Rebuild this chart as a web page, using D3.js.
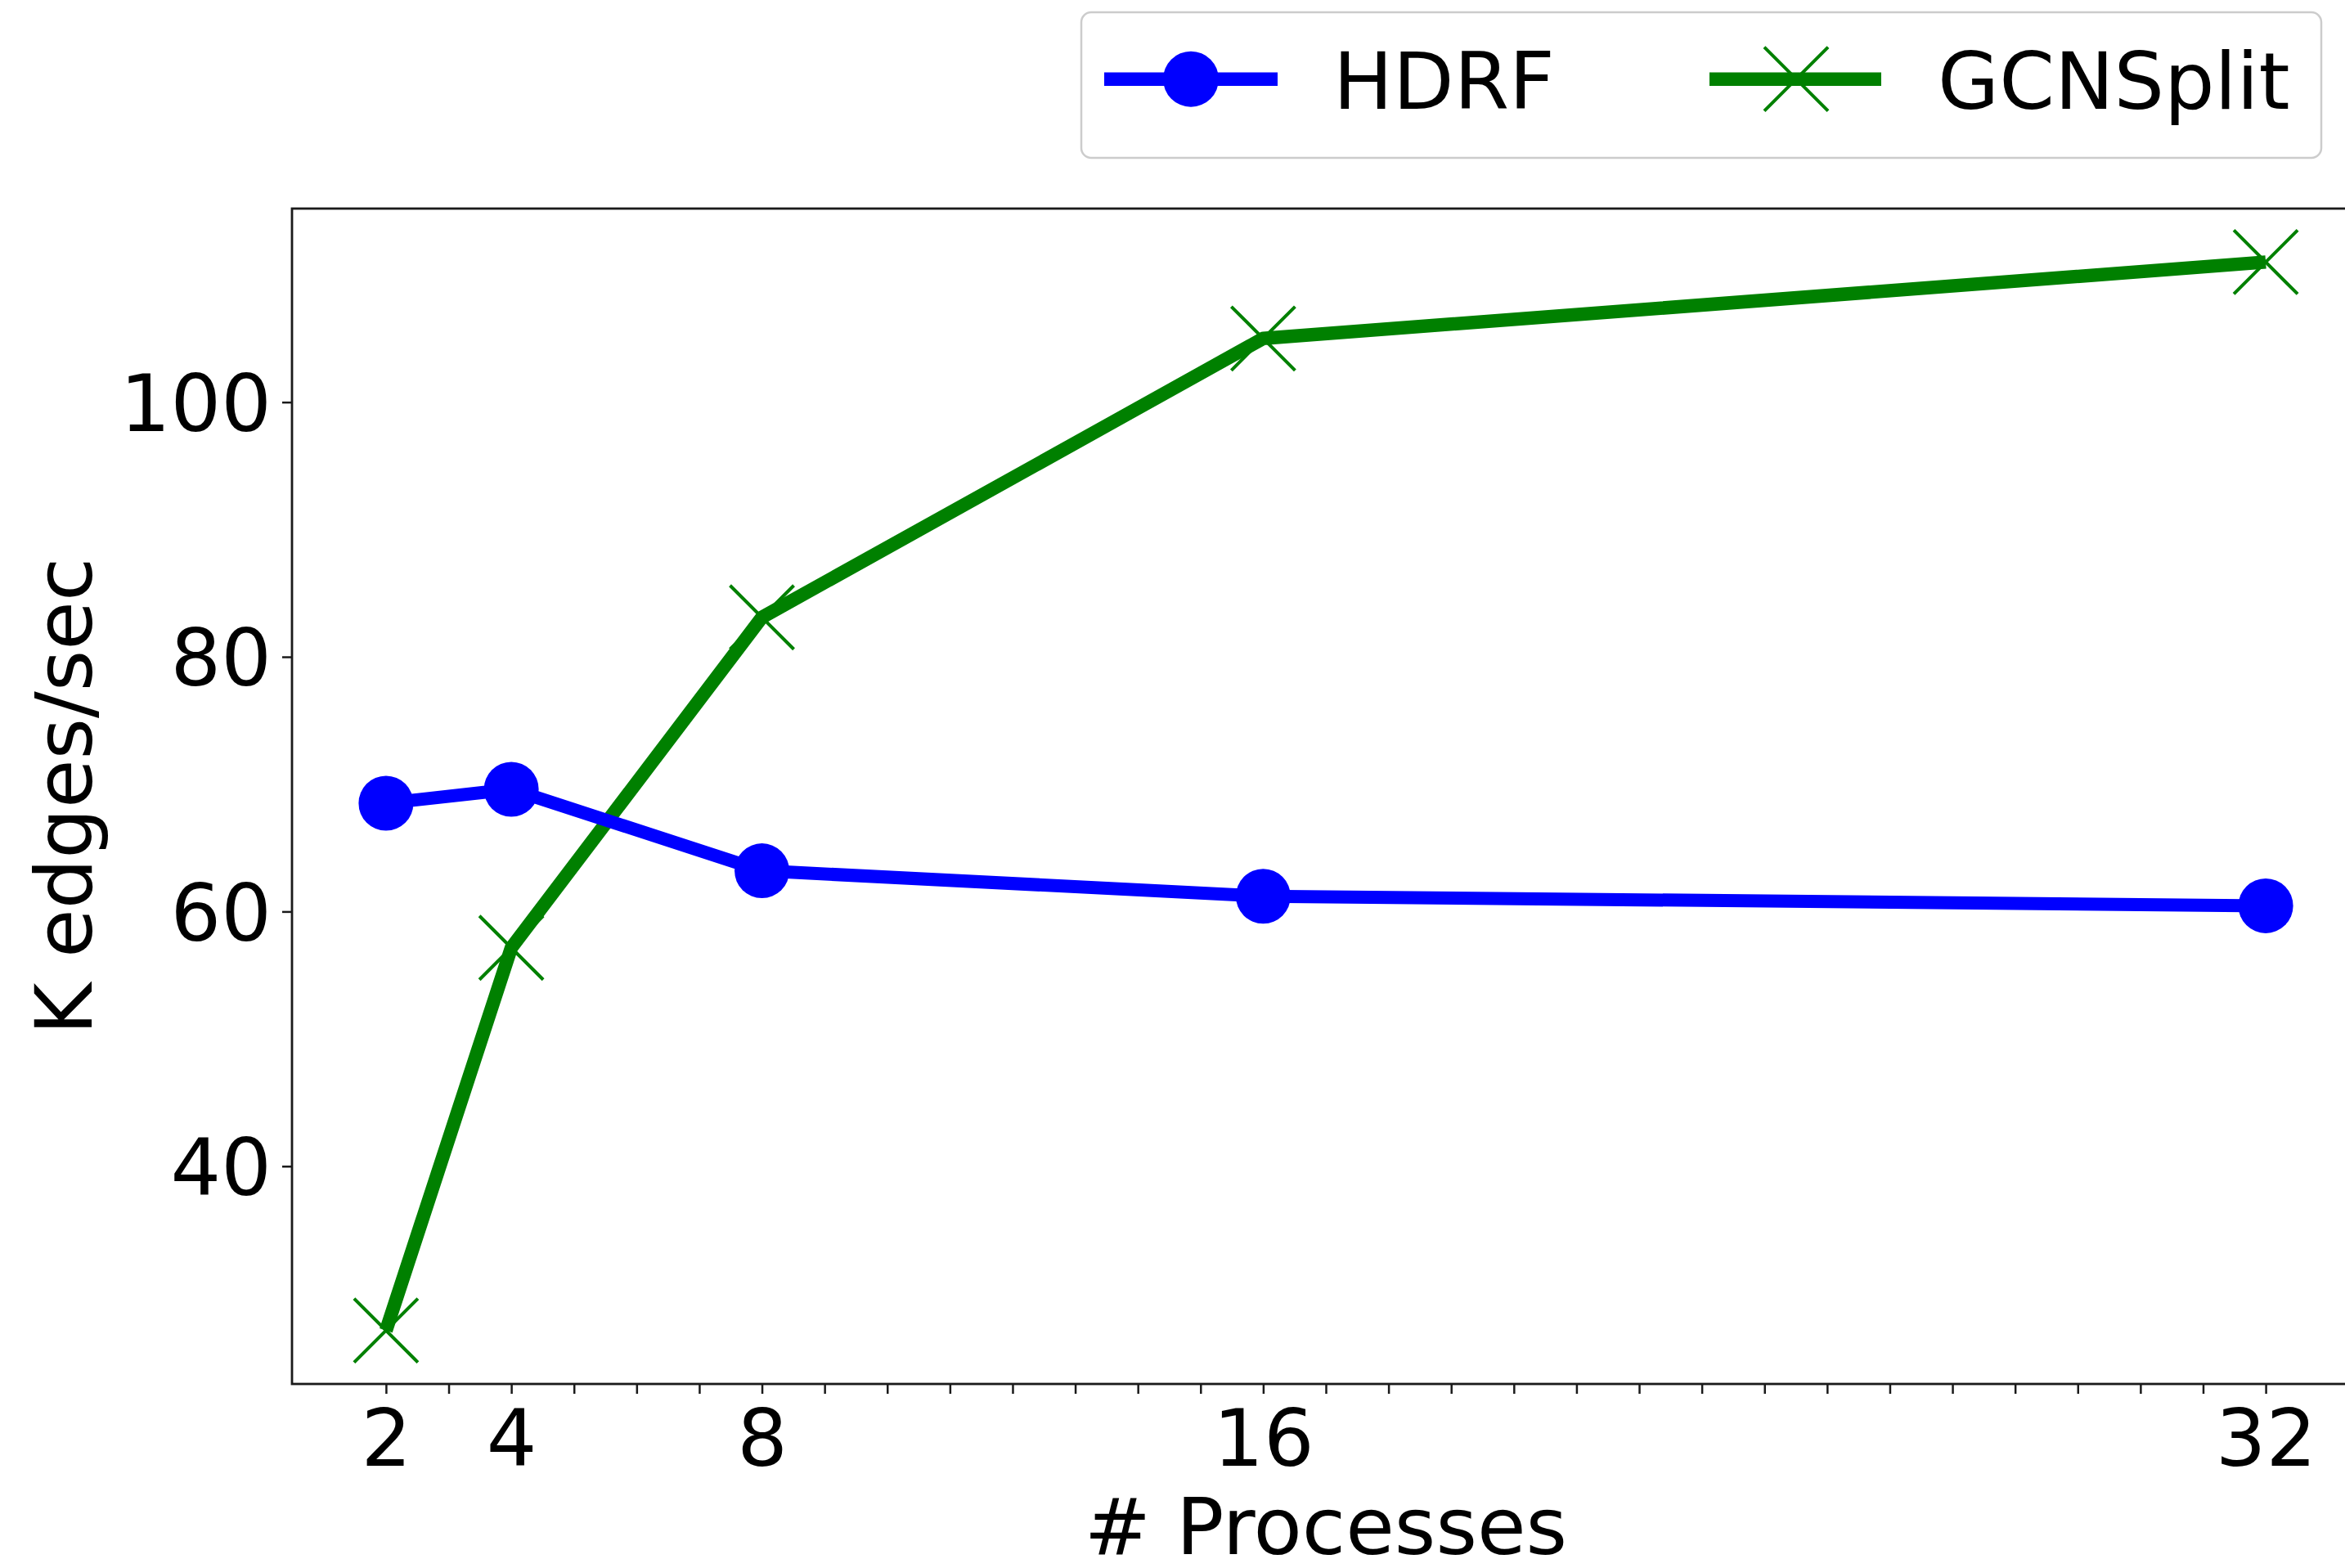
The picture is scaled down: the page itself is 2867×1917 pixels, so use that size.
<!DOCTYPE html>
<html>
<head>
<meta charset="utf-8">
<script src="https://cdn.jsdelivr.net/npm/d3@7"></script>
<style>
  html, body { margin: 0; padding: 0; background: #ffffff; overflow: hidden; }
  svg { display: block; }
  text { font-family: "DejaVu Sans", sans-serif; fill: #000; }
</style>
</head>
<body>
<svg id="chart" width="2867" height="1917"></svg>
<script>
// ---- data ----
const processes = [2, 4, 8, 16, 32];
const hdrf = [68.5, 69.6, 63.2, 61.2, 60.45];
const gcnsplit = [27.1, 57.15, 83.1, 105.0, 111.0];
const seriesNames = ["HDRF", "GCNSplit"];
const xMajorTicks = [2, 4, 8, 16, 32];
const yTicks = [40, 60, 80, 100];
const xTitle = "# Processes";
const yTitle = "K edges/sec";

(function () {
  // ---- layout ----
  const mLeft = 357, mRight = 2885, mTop = 255, mBottom = 1692;
  const svg = d3.select("#chart");

  const x = d3.scaleLinear().domain([0.5, 33.5]).range([mLeft, mRight]);
  const y = d3.scaleLinear().domain([22.9, 115.2]).range([mBottom, mTop]);

  const BLUE = "#0000ff", GREEN = "#008000";
  const FS = 97;

  // frame
  svg.append("rect")
    .attr("x", mLeft).attr("y", mTop)
    .attr("width", mRight - mLeft).attr("height", mBottom - mTop)
    .attr("fill", "none").attr("stroke", "#1a1a1a").attr("stroke-width", 2.8);

  // x axis (ticks at every integer, labels at majors)
  const xAllTicks = d3.range(2, 33);
  const xAxis = d3.axisBottom(x)
    .tickValues(xAllTicks)
    .tickSize(12).tickSizeOuter(0)
    .tickFormat(d => xMajorTicks.includes(d) ? String(d) : "");
  const gx = svg.append("g").attr("transform", `translate(0,${mBottom})`).call(xAxis);
  gx.select(".domain").remove();
  gx.selectAll(".tick line").attr("stroke", "#1a1a1a").attr("stroke-width", 2.5);
  gx.selectAll(".tick text")
    .attr("y", 100).attr("dy", null).attr("fill", "#000")
    .style("font-size", FS + "px").style("font-family", "DejaVu Sans");

  // y axis
  const yAxis = d3.axisLeft(y).tickValues(yTicks).tickSize(12).tickSizeOuter(0);
  const gy = svg.append("g").attr("transform", `translate(${mLeft},0)`).call(yAxis);
  gy.select(".domain").remove();
  gy.selectAll(".tick line").attr("stroke", "#1a1a1a").attr("stroke-width", 2.5);
  gy.selectAll(".tick text")
    .attr("x", -25).attr("dy", "0.36em").attr("fill", "#000")
    .style("font-size", FS + "px").style("font-family", "DejaVu Sans");

  // axis titles
  svg.append("text")
    .attr("x", (mLeft + mRight) / 2).attr("y", 1900)
    .attr("text-anchor", "middle")
    .style("font-size", FS + "px")
    .text(xTitle);
  svg.append("text")
    .attr("transform", `translate(112,${(mTop + mBottom) / 2}) rotate(-90)`)
    .attr("text-anchor", "middle")
    .style("font-size", FS + "px")
    .text(yTitle);

  // series
  const hdrfData = processes.map((p, i) => ({ p, v: hdrf[i] }));
  const gcnData = processes.map((p, i) => ({ p, v: gcnsplit[i] }));
  const line = d3.line().x(d => x(d.p)).y(d => y(d.v));

  const xMarkSize = 39; // half-size of X marker
  function drawX(g, cx, cy, s) {
    g.append("path")
      .attr("d", `M${cx - s},${cy - s}L${cx + s},${cy + s}M${cx - s},${cy + s}L${cx + s},${cy - s}`)
      .attr("stroke", GREEN).attr("stroke-width", 4).attr("fill", "none");
  }

  const plot = svg.append("g");
  // GCNSplit markers then line
  gcnData.forEach(d => drawX(plot, x(d.p), y(d.v), xMarkSize));
  plot.append("path").datum(gcnData)
    .attr("d", line).attr("fill", "none")
    .attr("stroke", GREEN).attr("stroke-width", 16.5).attr("stroke-linejoin", "round");

  // HDRF line then circles
  plot.append("path").datum(hdrfData)
    .attr("d", line).attr("fill", "none")
    .attr("stroke", BLUE).attr("stroke-width", 16).attr("stroke-linejoin", "round");
  plot.selectAll("circle.hdrf").data(hdrfData).enter().append("circle")
    .attr("class", "hdrf")
    .attr("cx", d => x(d.p)).attr("cy", d => y(d.v)).attr("r", 33.5)
    .attr("fill", BLUE);

  // legend
  const lg = svg.append("g");
  lg.append("rect")
    .attr("x", 1322).attr("y", 15).attr("width", 1516).attr("height", 178)
    .attr("rx", 12).attr("ry", 12)
    .attr("fill", "#ffffff").attr("stroke", "#cccccc").attr("stroke-width", 2.5);
  const ly = 96.7;
  lg.append("line").attr("x1", 1350).attr("x2", 1562).attr("y1", ly).attr("y2", ly)
    .attr("stroke", BLUE).attr("stroke-width", 16.5);
  lg.append("circle").attr("cx", 1456).attr("cy", ly).attr("r", 34).attr("fill", BLUE);
  lg.append("text").attr("x", 1630).attr("y", 133).style("font-size", FS + "px").text(seriesNames[0]);

  drawX(lg, 2196, ly, xMarkSize);
  lg.append("line").attr("x1", 2090).attr("x2", 2300).attr("y1", ly).attr("y2", ly)
    .attr("stroke", GREEN).attr("stroke-width", 16.5);
  lg.append("text").attr("x", 2369).attr("y", 133).style("font-size", FS + "px").text(seriesNames[1]);
})();
</script>
</body>
</html>
